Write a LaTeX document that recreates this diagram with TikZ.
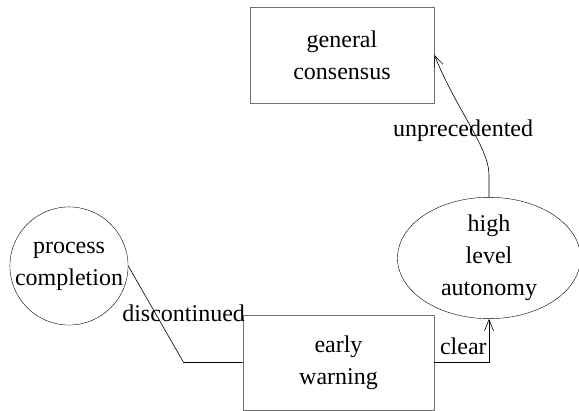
\documentclass[tikz,border=0pt]{standalone}
\usepackage{fontspec}
\setmainfont{Liberation Serif}
\usetikzlibrary{shapes.geometric,arrows.meta}

\definecolor{boxgray}{HTML}{707070}

\tikzset{
  box/.style={draw=boxgray,thick,rectangle,align=center,inner sep=0pt},
  roundnode/.style={draw,ellipse,align=center,inner sep=0pt},
  edge/.style={draw,semithick},
  tip/.style={-{Straight Barb[length=11pt,width=9pt]}}
}

\begin{document}
\begin{tikzpicture}[x=1pt,y=1pt,font=\fontsize{24}{32}\selectfont]

% Fix the page size
\useasboundingbox (0,0) rectangle (579,411);

% Draw the nodes
\node[box,minimum width=184pt,minimum height=96pt] (consensus) at (342,356) {general\\consensus};
\node[roundnode,minimum width=183pt,minimum height=95pt] (autonomy) at (489,153) {high\\level\\autonomy};
\node[draw,circle,minimum size=116pt,align=center,inner sep=0pt] (completion) at (69,145) {process\\completion};
\node[box,minimum width=191pt,minimum height=95pt] (warning) at (338.5,48.5) {early\\warning};

% Draw the connectors
\draw[edge,tip] (warning.east) -| node[pos=0.69,left,inner sep=2pt] {clear} (autonomy.south);
\draw[edge,tip] (autonomy.north) -- ++(0,22) .. controls +(0,28) and +(22,-55) .. node[pos=0.45,xshift=-10pt,inner sep=0pt] {unprecedented} (consensus.east);
\draw[edge] (warning.west) -- ([xshift=-59pt]warning.west) node[yshift=49pt] {discontinued} -- (completion.east);

\end{tikzpicture}
\end{document}
